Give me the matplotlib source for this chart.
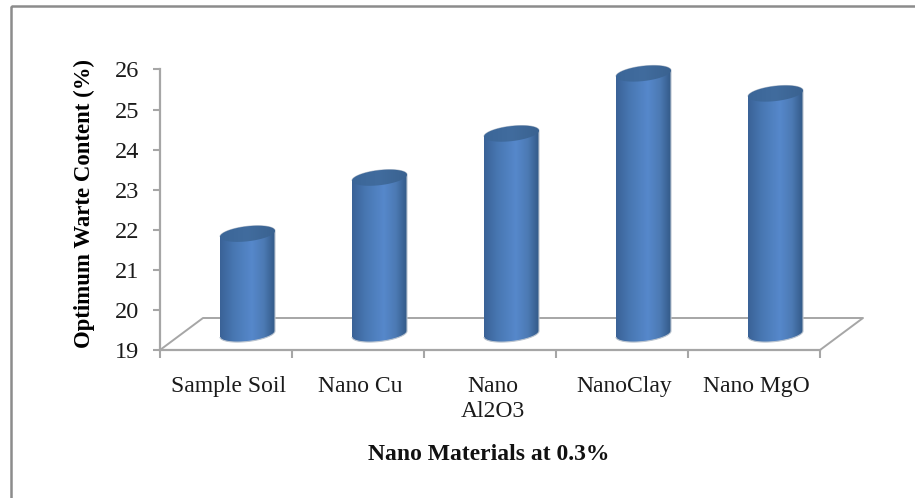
import numpy as np
import matplotlib
matplotlib.use('Agg')
import matplotlib.pyplot as plt
from matplotlib.colors import LinearSegmentedColormap
from matplotlib.patches import PathPatch, Rectangle
from matplotlib.path import Path

categories = ['Sample Soil', 'Nano Cu', 'Nano\nAl2O3', 'NanoClay', 'Nano MgO']
water_content = [21.5, 22.9, 24.0, 25.5, 25.0]
y_ticks = [19, 20, 21, 22, 23, 24, 25, 26]

plt.rcParams['font.family'] = ['Liberation Serif', 'DejaVu Serif']

W, H = 915, 498
fig = plt.figure(figsize=(W / 100, H / 100), dpi=100)

# full-figure overlay for the chart border
bg = fig.add_axes([0, 0, 1, 1])
bg.set_xlim(0, W)
bg.set_ylim(H, 0)
bg.axis('off')
bg.add_patch(Rectangle((11, 6), 1000, 1000, fill=False, ec='#8c8c8c', lw=1.8))

ax = fig.add_axes([160 / W, 1 - 350 / H, 660 / W, 280.5 / H])
ax.patch.set_alpha(0)
ax.set_xlim(0, 5)
ax.set_ylim(19, 26)

gray = '#a6a6a6'
# depth of the 3D floor, in data units
px_x = 5 / 660
px_y = 7 / 280.5
depth_x = 43 * px_x
depth_y = 32 * px_y

for s in ['top', 'right']:
    ax.spines[s].set_visible(False)
for s in ['left', 'bottom']:
    ax.spines[s].set_color(gray)
    ax.spines[s].set_linewidth(1.6)

floor_x = [0, depth_x, 5 + depth_x, 5]
floor_y = [19, 19 + depth_y, 19 + depth_y, 19]
ax.plot(floor_x, floor_y, color=gray, lw=1.4, clip_on=False, zorder=1)

ax.set_yticks(y_ticks)
ax.set_xticks(range(6))
ax.set_xticklabels([])
ax.tick_params(axis='y', length=5, width=1.5, color=gray, labelsize=17.5, pad=10,
               labelcolor='#1a1a1a')
ax.tick_params(axis='x', length=6, width=1.5, color=gray)

for i, name in enumerate(categories):
    ax.text(i + 0.5 + 2.5 * px_x, 18.36, name, ha='center', va='top', fontsize=17,
            color='#1a1a1a', linespacing=1.25)

ax.set_ylabel('Optimum Warte Content (%)', fontsize=16.4, fontweight='bold')
ax.yaxis.set_label_coords(-65 / 660, 0.522)
fig.text(489 / W, 1 - 454 / H, 'Nano Materials at 0.3%', ha='center', va='center',
         fontsize=17, fontweight='bold', color='#111111')

# cylinder shading, dark at both edges and lightest just right of centre
body_cmap = LinearSegmentedColormap.from_list(
    'body', [(0, '#3a6297'), (0.25, '#4877b2'), (0.58, '#5688cb'), (0.8, '#4c7ab4'), (1, '#335a88')])
top_cmap = LinearSegmentedColormap.from_list('top', ['#3b6698', '#416c9e', '#3a6290'])
shade = np.linspace(0, 1, 256).reshape(1, -1)

half_w = 27.5 * px_x
half_h = 7.5 * px_y
skew = 3 * px_y
t = np.linspace(0, 2 * np.pi, 121)


def ring(cx, cy):
    # tilted ellipse outline for a cylinder cap
    return cx + half_w * np.cos(t), cy + half_h * np.sin(t) + skew * np.cos(t)


for i, v in enumerate(water_content):
    cx = i + 0.5 + depth_x / 2
    base = 19 + depth_y / 2
    top = v + depth_y / 2

    xb, yb = ring(cx, base)
    xt, yt = ring(cx, top)
    lower = t >= np.pi
    upper = t <= np.pi
    # outline: lower half of the base ellipse, then upper half of the top one
    xs = np.concatenate([xb[lower], xt[upper]])
    ys = np.concatenate([yb[lower], yt[upper]])
    body = PathPatch(Path(np.column_stack([xs, ys])), fc='none', ec='#b9c3cf', lw=0.8,
                     transform=ax.transData, zorder=3, clip_on=False)
    ax.add_patch(body)
    im = ax.imshow(shade, cmap=body_cmap, aspect='auto', zorder=2.9,
                   extent=[cx - half_w, cx + half_w, base - 2 * half_h, top + 2 * half_h])
    # caps can rise past the axis top, so only clip to the cylinder shape
    im.set_clip_path(body)
    im.set_clip_box(bg.bbox)

    cap = PathPatch(Path(np.column_stack([xt, yt])), fc='none', ec='none',
                    transform=ax.transData, zorder=3.2, clip_on=False)
    ax.add_patch(cap)
    im2 = ax.imshow(shade, cmap=top_cmap, aspect='auto', zorder=3.1,
                    extent=[cx - half_w, cx + half_w, top - 2 * half_h, top + 2 * half_h])
    im2.set_clip_path(cap)
    im2.set_clip_box(bg.bbox)

ax.set_xlim(0, 5)
ax.set_ylim(19, 26)

fig.savefig('out.png', dpi=100)
